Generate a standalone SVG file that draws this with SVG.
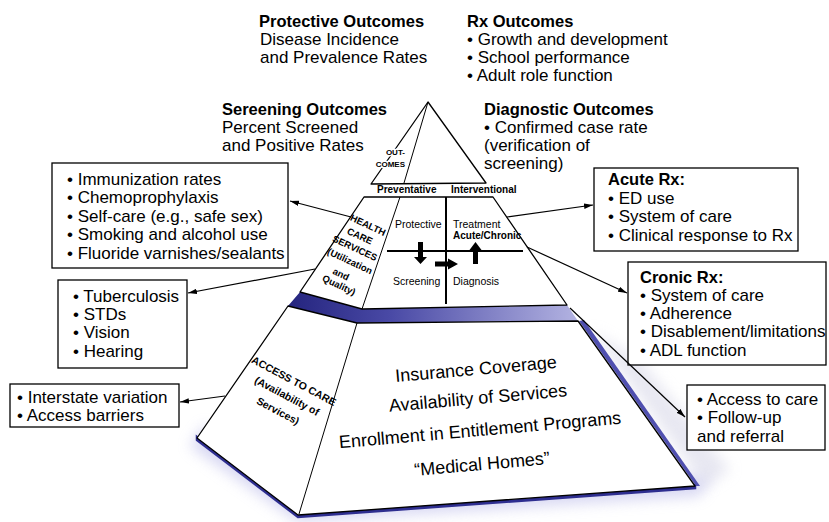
<svg xmlns="http://www.w3.org/2000/svg" width="829" height="522" viewBox="0 0 829 522">
<style>
text{font-family:"Liberation Sans",Arial,Helvetica,sans-serif;fill:#000}
.h{font-size:16.5px;font-weight:bold}
.t{font-size:17px}
.box{fill:#fff;stroke:#000;stroke-width:1.3}
.face{fill:#fff;stroke:#000;stroke-width:1.3;stroke-linejoin:round}
.div{stroke:#000;stroke-width:1;fill:none}
.lbl{font-size:10.5px}
.lb{font-size:10px;font-weight:bold}
.side{font-size:9.5px;font-weight:bold}
.acc{font-size:10.5px;font-weight:bold}
.big{font-size:18px}
.oc{font-size:8px;font-weight:bold;stroke:#fff;stroke-width:3px;paint-order:stroke;stroke-linejoin:round}
#connectors line{stroke:#000;stroke-width:1.2;marker-end:url(#ah)}
</style>
<defs>
<marker id="ah" viewBox="0 0 10 6" refX="10" refY="3" markerWidth="9" markerHeight="5.4" markerUnits="userSpaceOnUse" orient="auto"><path d="M0,0 L10,3 L0,6 z" fill="#000"/></marker>
<linearGradient id="band" x1="290" y1="0" x2="580" y2="0" gradientUnits="userSpaceOnUse"><stop offset="0" stop-color="#25257f"/><stop offset="0.35" stop-color="#4a4aa6"/><stop offset="1" stop-color="#b4b4e2"/></linearGradient>
<filter id="blur" x="-20%" y="-20%" width="140%" height="140%"><feGaussianBlur stdDeviation="7"/></filter>
</defs>

<g id="shadow">
<polygon points="190,446 298,522 700,496 712,476 620,470 300,500 205,425" fill="#b8b8e8" opacity="0.55" filter="url(#blur)"/>
<polygon points="590,330 705,486 730,470 640,360" fill="#d8d8e8" opacity="0.6" filter="url(#blur)"/>
<polygon points="197,440 298,517 695,488 695,485 298,514 197,437" fill="#2e2e90" stroke="#2e2e90" stroke-width="2.5"/>
<polygon points="579,321 696,486 700,486 584,320" fill="#5050b0"/>
<polygon points="300,292 362,309 567,305 578,321 357,323 288,306" fill="url(#band)"/>
</g>

<g id="access-tier">
<polygon class="face" points="288,306 357,323 578,321 695,486 298,515 197,438"/>
<line class="div" x1="357" y1="323" x2="299" y2="514"/>
<text class="acc" transform="translate(294,381) rotate(28)" y="3.7" text-anchor="middle">ACCESS TO CARE</text>
<text class="acc" transform="translate(287,396) rotate(28)" y="3.7" text-anchor="middle">(Availability of</text>
<text class="acc" transform="translate(278,411) rotate(28)" y="3.7" text-anchor="middle">Services)</text>
<text class="big" transform="translate(476,369) rotate(-5)" y="6" text-anchor="middle">Insurance Coverage</text>
<text class="big" transform="translate(478,398) rotate(-5)" y="6" text-anchor="middle">Availability of Services</text>
<text class="big" transform="translate(480,430) rotate(-5)" y="6" text-anchor="middle">Enrollment in Entitlement Programs</text>
<text class="big" transform="translate(482,464) rotate(-5)" y="6" text-anchor="middle">“Medical Homes”</text>
</g>

<g id="health-services-tier">
<polygon class="face" points="364,197 493,197 567,305 362,309 300,292"/>
<line class="div" x1="400" y1="197" x2="362" y2="309"/>
<line x1="446" y1="197" x2="446" y2="304" stroke="#000" stroke-width="2"/>
<line x1="387" y1="251" x2="523" y2="251" stroke="#000" stroke-width="2"/>
<text class="side" transform="translate(368,225) rotate(25)" y="3.4" text-anchor="middle">HEALTH</text>
<text class="side" transform="translate(360,236) rotate(25)" y="3.4" text-anchor="middle">CARE</text>
<text class="side" transform="translate(355,248) rotate(25)" y="3.4" text-anchor="middle">SERVICES</text>
<text class="side" transform="translate(350,261) rotate(25)" y="3.4" text-anchor="middle">(Utilization</text>
<text class="side" transform="translate(341,274) rotate(25)" y="3.4" text-anchor="middle">and</text>
<text class="side" transform="translate(339,285) rotate(25)" y="3.4" text-anchor="middle">Quality)</text>
<text class="lbl" x="395" y="228">Protective</text>
<text class="lbl" x="453" y="228">Treatment</text>
<text class="lb" x="453" y="239">Acute/Chronic</text>
<text class="lbl" x="393" y="285">Screening</text>
<text class="lbl" x="453" y="285">Diagnosis</text>
<path d="M418,242 H423 V257 H427 L420.5,264 L414,257 H418 Z" fill="#000"/>
<path d="M435,261.5 H448 V258.5 L458,264 L448,269.5 V266.5 H435 Z" fill="#000"/>
<path d="M473,264 V250 H469.5 L475.5,242 L481.5,250 H478 V264 Z" fill="#000"/>
</g>

<g id="prevent-intervent">
<text class="lb" x="377" y="193" font-size="10.5">Preventative</text>
<text class="lb" x="451" y="193" font-size="10.5">Interventional</text>
</g>

<g id="outcomes-tier">
<polygon class="face" points="428,102 371,184 486,183"/>
<line class="div" x1="428" y1="102" x2="404" y2="183"/>
<text class="oc" x="405" y="155" text-anchor="end">OUT-</text>
<text class="oc" x="405" y="167" text-anchor="end">COMES</text>
</g>

<g id="protective-outcomes">
<text class="h" x="259" y="27">Protective Outcomes</text>
<text class="t" x="260" y="45">Disease Incidence</text>
<text class="t" x="260" y="63">and Prevalence Rates</text>
</g>
<g id="rx-outcomes">
<text class="h" x="467" y="27">Rx Outcomes</text>
<text class="t" x="467" y="45">• Growth and development</text>
<text class="t" x="467" y="63">• School performance</text>
<text class="t" x="467" y="81">• Adult role function</text>
</g>
<g id="screening-outcomes">
<text class="h" x="222" y="115">Sereening Outcomes</text>
<text class="t" x="222" y="133">Percent Screened</text>
<text class="t" x="222" y="151">and Positive Rates</text>
</g>
<g id="diagnostic-outcomes">
<text class="h" x="484" y="115">Diagnostic Outcomes</text>
<text class="t" x="484" y="133">• Confirmed case rate</text>
<text class="t" x="484" y="151">(verification of</text>
<text class="t" x="484" y="169">screening)</text>
</g>

<g id="box-protective">
<rect class="box" x="52" y="163" width="236" height="105"/>
<text class="t" x="67" y="185">• Immunization rates</text>
<text class="t" x="67" y="203">• Chemoprophylaxis</text>
<text class="t" x="67" y="222">• Self-care (e.g., safe sex)</text>
<text class="t" x="67" y="240">• Smoking and alcohol use</text>
<text class="t" x="67" y="259">• Fluoride varnishes/sealants</text>
</g>
<g id="box-screening">
<rect class="box" x="58" y="280" width="129" height="88"/>
<text class="t" x="73" y="302">• Tuberculosis</text>
<text class="t" x="73" y="320">• STDs</text>
<text class="t" x="73" y="338">• Vision</text>
<text class="t" x="73" y="357">• Hearing</text>
</g>
<g id="box-access">
<rect class="box" x="10" y="384" width="169" height="43"/>
<text class="t" x="17" y="403">• Interstate variation</text>
<text class="t" x="17" y="421">• Access barriers</text>
</g>
<g id="box-acute">
<rect class="box" x="594" y="168" width="204" height="83"/>
<text class="h" x="608" y="185">Acute Rx:</text>
<text class="t" x="608" y="204">• ED use</text>
<text class="t" x="608" y="222">• System of care</text>
<text class="t" x="608" y="241">• Clinical response to Rx</text>
</g>
<g id="box-chronic">
<rect class="box" x="628" y="262" width="198" height="103"/>
<text class="h" x="640" y="283">Cronic Rx:</text>
<text class="t" x="640" y="301">• System of care</text>
<text class="t" x="640" y="319">• Adherence</text>
<text class="t" x="640" y="337">• Disablement/limitations</text>
<text class="t" x="640" y="356">• ADL function</text>
</g>
<g id="box-followup">
<rect class="box" x="687" y="385" width="138" height="65"/>
<text class="t" x="697" y="405">• Access to care</text>
<text class="t" x="697" y="423">• Follow-up</text>
<text class="t" x="697" y="442">and referral</text>
</g>

<g id="connectors">
<line x1="351" y1="217" x2="290" y2="201"/>
<line x1="315" y1="269" x2="188" y2="293"/>
<line x1="225" y1="396" x2="180" y2="402"/>
<line x1="507" y1="217" x2="593" y2="205"/>
<line x1="527" y1="247" x2="627" y2="293"/>
<line x1="570" y1="308" x2="685" y2="417"/>
</g>
</svg>
